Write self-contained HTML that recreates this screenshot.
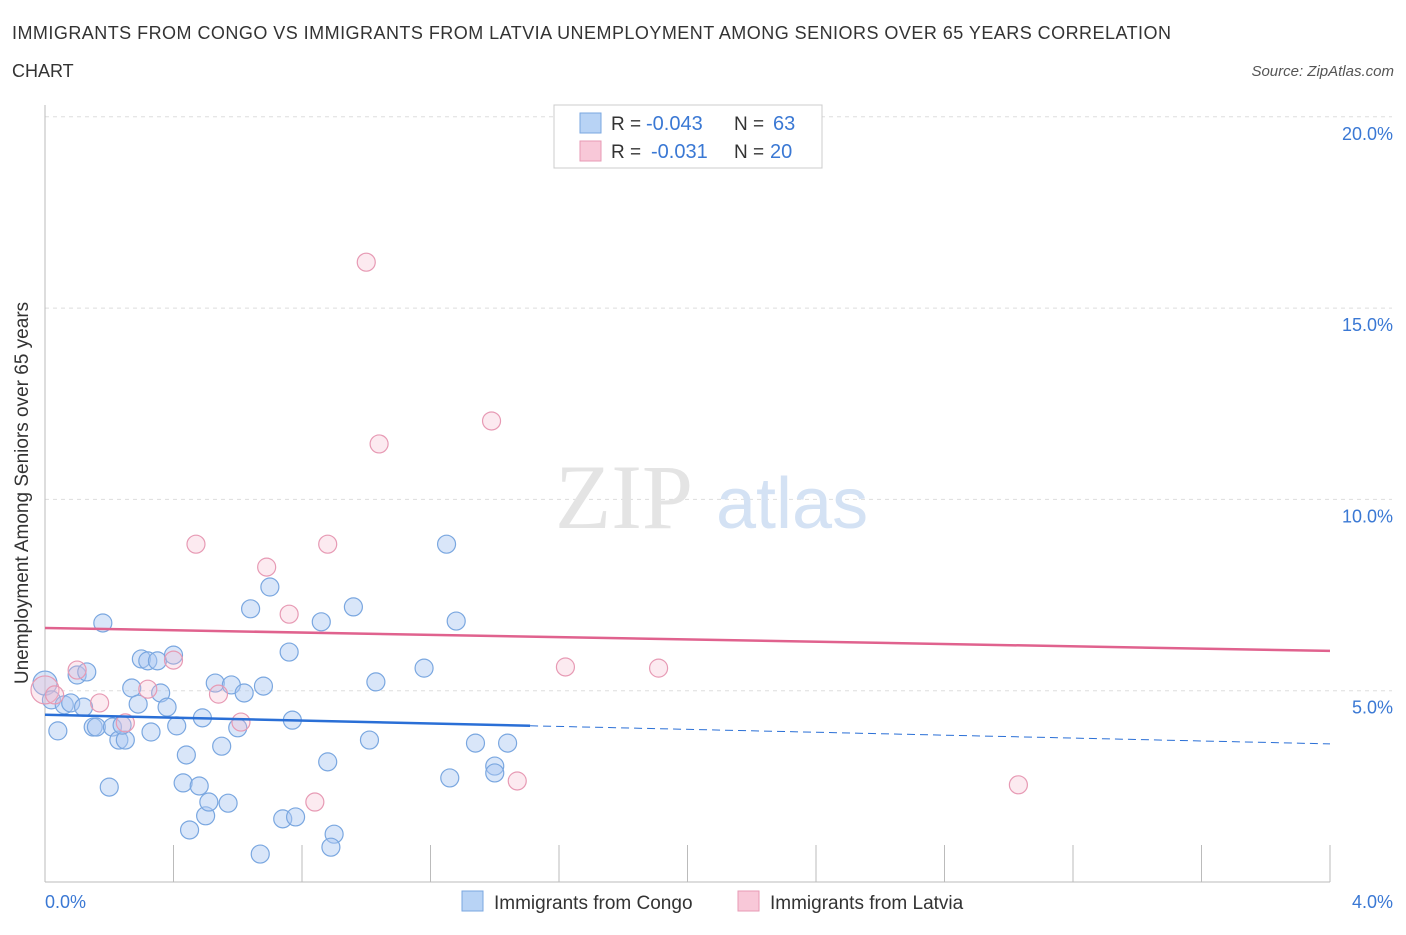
<!DOCTYPE html>
<html><head><meta charset="utf-8"><style>
body{margin:0;background:#fff;font-family:"Liberation Sans",sans-serif;}
</style></head><body>
<svg width="1406" height="930" xmlns="http://www.w3.org/2000/svg">
<text x="12" y="39" font-size="18" fill="#333" textLength="1159">IMMIGRANTS FROM CONGO VS IMMIGRANTS FROM LATVIA UNEMPLOYMENT AMONG SENIORS OVER 65 YEARS CORRELATION</text>
<text x="12" y="77" font-size="18" fill="#333">CHART</text>
<text x="1394" y="76" font-size="15" font-style="italic" fill="#555" text-anchor="end">Source: ZipAtlas.com</text>
<g id="grid"></g>
<text x="555" y="528" font-size="92" font-family="Liberation Serif" fill="#e4e4e4">ZIP</text>
<text x="716" y="528" font-size="72" fill="#d4e2f4">atlas</text>
<g id="marks"></g>
<text x="28" y="493" font-size="19" fill="#333" text-anchor="middle" transform="rotate(-90 28 493)">Unemployment Among Seniors over 65 years</text>
<text x="45" y="908" font-size="18" fill="#3a78d4">0.0%</text>
<text x="1393" y="908" font-size="18" fill="#3a78d4" text-anchor="end">4.0%</text>
<g>
<rect x="554" y="105" width="268" height="63" fill="#fff" stroke="#ccc"/>
<rect x="580" y="113" width="21" height="20" fill="#b8d3f5" stroke="#7aa7e0"/>
<rect x="580" y="141" width="21" height="20" fill="#f8c8d8" stroke="#e79ab4"/>
<text x="611" y="130" font-size="19" fill="#333">R =</text>
<text x="646" y="130" font-size="20" fill="#3a78d4">-0.043</text>
<text x="734" y="130" font-size="19" fill="#333">N =</text>
<text x="773" y="130" font-size="20" fill="#3a78d4">63</text>
<text x="611" y="158" font-size="19" fill="#333">R =</text>
<text x="651" y="158" font-size="20" fill="#3a78d4">-0.031</text>
<text x="734" y="158" font-size="19" fill="#333">N =</text>
<text x="770" y="158" font-size="20" fill="#3a78d4">20</text>
</g>
<g>
<rect x="462" y="891" width="21" height="20" fill="#b8d3f5" stroke="#7aa7e0"/>
<text x="494" y="909" font-size="19" fill="#333">Immigrants from Congo</text>
<rect x="738" y="891" width="21" height="20" fill="#f8c8d8" stroke="#e79ab4"/>
<text x="770" y="909" font-size="19" fill="#333">Immigrants from Latvia</text>
</g>
</svg>
<script>
const blueX=[0.00,0.02,0.04,0.06,0.08,0.10,0.13,0.12,0.15,0.16,0.18,0.20,0.21,0.23,0.25,0.24,0.27,0.29,0.30,0.32,0.33,0.35,0.36,0.38,0.40,0.41,0.44,0.43,0.45,0.48,0.49,0.50,0.51,0.53,0.55,0.57,0.58,0.60,0.62,0.64,0.67,0.68,0.70,0.74,0.76,0.77,0.78,0.86,0.88,0.90,0.89,0.96,1.01,1.03,1.18,1.25,1.26,1.28,1.34,1.40,1.40,1.44];
const blueY=[5.20,4.76,3.95,4.63,4.68,5.41,5.49,4.57,4.05,4.05,6.77,2.48,4.05,3.71,3.71,4.10,5.07,4.65,5.83,5.78,3.92,5.78,4.94,4.57,5.93,4.08,3.32,2.59,1.36,2.51,4.29,1.73,2.09,5.20,3.55,2.06,5.15,4.03,4.94,7.14,0.73,5.12,7.71,1.65,6.01,4.23,1.70,6.80,3.14,1.25,0.91,7.19,3.71,5.23,5.59,8.83,2.72,6.82,3.63,3.03,2.85,3.63];
const pinkX=[0.00,0.03,0.10,0.17,0.25,0.32,0.40,0.47,0.54,0.61,0.69,0.76,0.84,0.88,1.00,1.04,1.39,1.47,1.62,1.91,3.03];
const pinkY=[5.02,4.89,5.54,4.68,4.16,5.04,5.80,8.83,4.91,4.18,8.23,7.00,2.09,8.83,16.20,11.45,12.05,2.64,5.62,5.59,2.54];
const yTicks=[5,10,15,20];
const yTickLabels=["5.0%","10.0%","15.0%","20.0%"];
const xTicks=[0,0.4,0.8,1.2,1.6,2.0,2.4,2.8,3.2,3.6,4.0];
const blueTrend=[4.37,3.61], pinkTrend=[6.64,6.04], blueSolidEnd=1.51;
const NS="http://www.w3.org/2000/svg";
const X=v=>45+v*321.25, Y=v=>882-v*38.26;
function mk(t,a,p){const e=document.createElementNS(NS,t);for(const k in a)e.setAttribute(k,a[k]);p.appendChild(e);return e;}
const g=document.getElementById('grid'), m=document.getElementById('marks');
yTicks.forEach((t,i)=>{
 const l=mk('line',{x1:45,x2:1392,y1:Y(t),y2:Y(t),stroke:'#ddd','stroke-dasharray':'4,4'},g);
 
 
 const tx=mk('text',{x:1393,y:Y(t)+23,'font-size':18,fill:'#3a78d4','text-anchor':'end'},g);
 tx.textContent=yTickLabels[i];
 
 
});
xTicks.forEach(t=>{
 const l=mk('line',{x1:X(t),x2:X(t),y1:845,y2:882,stroke:'#bbb'},g);
 
 
});
const ya=mk('line',{x1:45,x2:45,y1:105,y2:882,stroke:'#bbb'},g);


const xa=mk('line',{x1:45,x2:1330,y1:882,y2:882,stroke:'#bbb'},g);


blueX.forEach((x,i)=>{
 const c=mk('circle',{cx:X(x),cy:Y(blueY[i]),r:i==0?12:9,fill:'rgba(170,200,242,0.45)',stroke:'#7aa7e0','stroke-width':1.2},m);
 
 
});
pinkX.forEach((x,i)=>{
 const c=mk('circle',{cx:X(x),cy:Y(pinkY[i]),r:i==0?14:9,fill:'rgba(245,185,205,0.3)',stroke:'#e79ab4','stroke-width':1.2},m);
 
 
});
const bAt=v=>blueTrend[0]+(blueTrend[1]-blueTrend[0])*v/4;
const t1=mk('line',{x1:X(0),y1:Y(bAt(0)),x2:X(blueSolidEnd),y2:Y(bAt(blueSolidEnd)),stroke:'#2a6fd6','stroke-width':2.5},m);


const t2=mk('line',{x1:X(blueSolidEnd),y1:Y(bAt(blueSolidEnd)),x2:X(4),y2:Y(bAt(4)),stroke:'#2a6fd6','stroke-width':1,'stroke-dasharray':'8,5'},m);


const t3=mk('line',{x1:X(0),y1:Y(pinkTrend[0]),x2:X(4),y2:Y(pinkTrend[1]),stroke:'#e0628e','stroke-width':2.5},m);


</script>
</body></html>
